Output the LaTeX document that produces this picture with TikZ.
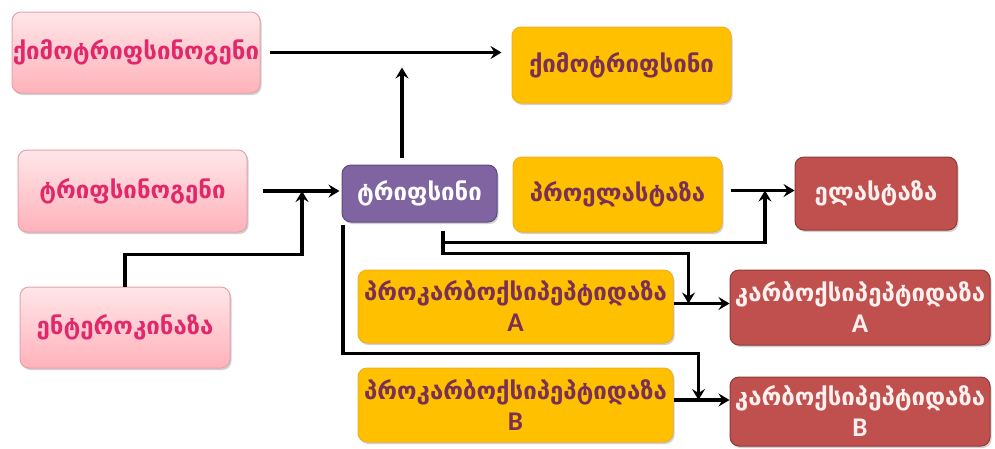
\documentclass[tikz,border=0pt]{standalone}
\usepackage{fontspec}
\setmainfont{DejaVu Sans}
\newfontfamily\latinfont{Carlito}
\usetikzlibrary{arrows.meta,calc,shadows}

\definecolor{pinktop}{HTML}{FFE6E8}
\definecolor{pinkbot}{HTML}{FFB2BA}
\definecolor{pinkedge}{HTML}{E6A2AA}
\definecolor{pinktxt}{HTML}{E0286A}
\definecolor{goldfill}{HTML}{FFC000}
\definecolor{goldedge}{HTML}{F0B020}
\definecolor{goldtxt}{HTML}{7A2F55}
\definecolor{violetfill}{HTML}{8064A2}
\definecolor{violetedge}{HTML}{5E4A80}
\definecolor{redfill}{HTML}{C0504D}
\definecolor{rededge}{HTML}{8E3A38}
\definecolor{redtxt}{HTML}{FFF0F0}

\newcommand{\sublabel}[1]{{\latinfont\bfseries\fontsize{27}{30}\selectfont #1}}

\begin{document}
\begin{tikzpicture}[x=1pt,y=-1pt,
  box/.style={rounded corners=9pt, align=center, inner sep=0pt, line width=1pt,
    font=\bfseries\fontsize{24}{31}\selectfont,
    drop shadow={shadow xshift=1.5pt, shadow yshift=-2pt, opacity=0.18, fill=black}},
  pinkbox/.style={box, draw=pinkedge, top color=pinktop, bottom color=pinkbot, text=pinktxt},
  goldbox/.style={box, draw=goldedge, fill=goldfill, text=goldtxt},
  violetbox/.style={box, draw=violetedge, fill=violetfill, text=white},
  redbox/.style={box, draw=rededge, fill=redfill, text=redtxt},
  arr/.style={line width=3.2pt, -{Stealth[length=11pt,width=13pt,inset=4pt]}}
]
\useasboundingbox (0,0) rectangle (995,448);

% precursors (left column)
\node[pinkbox, minimum width=248pt, minimum height=81pt] (qgen)  at (136,52.5)  {ქიმოტრიფსინოგენი};
\node[pinkbox, minimum width=229pt, minimum height=82pt] (tgen)  at (132.5,191) {ტრიფსინოგენი};
\node[pinkbox, minimum width=210pt, minimum height=81pt] (enter) at (125,327.5) {ენტეროკინაზა};

% trypsin
\node[violetbox, minimum width=155pt, minimum height=57pt] (trip) at (419.5,193.5) {ტრიფსინი};

% proenzymes
\node[goldbox, minimum width=219pt, minimum height=76pt] (qimo)  at (621.5,65)   {ქიმოტრიფსინი};
\node[goldbox, minimum width=209pt, minimum height=75pt] (proel) at (617.5,194.5) {პროელასტაზა};
\node[goldbox, minimum width=315pt, minimum height=73pt] (procA) at (515.5,306.5) {პროკარბოქსიპეპტიდაზა\\\sublabel{A}};
\node[goldbox, minimum width=315pt, minimum height=74pt] (procB) at (515.5,405)   {პროკარბოქსიპეპტიდაზა\\\sublabel{B}};

% active enzymes
\node[redbox, minimum width=162pt, minimum height=73pt] (elast) at (876,193.5) {ელასტაზა};
\node[redbox, minimum width=260pt, minimum height=75pt] (carbA) at (860,307.5) {კარბოქსიპეპტიდაზა\\\sublabel{A}};
\node[redbox, minimum width=260pt, minimum height=69pt] (carbB) at (860,411.5) {კარბოქსიპეპტიდაზა\\\sublabel{B}};

% activation arrows
\draw[arr, shorten <=9pt, shorten >=10pt] (qgen.east) -- (qgen.east -| qimo.west);
\coordinate (tripTop) at ([xshift=-17.5pt]trip.north);
\draw[arr, shorten <=7pt, shorten >=15pt] (tripTop) -- (tripTop |- qgen.east);

\draw[arr, shorten <=15pt, shorten >=2pt] (tgen.east) -- (tgen.east -| trip.west);
\coordinate (jt) at ($(tgen.east)!0.58!(tgen.east -| trip.west)$);
\draw[arr] (enter.north) -- ++(0,-32) -| (jt);

\coordinate (pe) at ([yshift=4pt]proel.east);
\draw[arr, shorten <=8pt] (pe) -- (pe -| elast.west);
\coordinate (je) at ($(pe)!0.59!(pe -| elast.west)$);

\coordinate (pa) at ([yshift=3pt]procA.east);
\draw[arr] (pa) -- (pa -| carbA.west);
\coordinate (ja) at ($(pa)+(15,0)$);

\coordinate (pb) at ([yshift=5pt]procB.east);
\draw[arr] (pb) -- (pb -| carbB.west);
\coordinate (jb) at ($(pb)+(25,0)$);

% trypsin branches
\coordinate (tripSE) at ([xshift=23.5pt,yshift=-8pt]trip.south);
\draw[arr] (tripSE) -- ++(0,23) -| (ja);
\coordinate (jr) at ($(tripSE)+(0,23)$ -| procA.east);
\draw[arr] (jr) -- ++(0,-11) -| (je);
\draw[arr] ([xshift=1.5pt,yshift=-2pt]trip.south west) -- ++(0,129) -| (jb);
\end{tikzpicture}
\end{document}
